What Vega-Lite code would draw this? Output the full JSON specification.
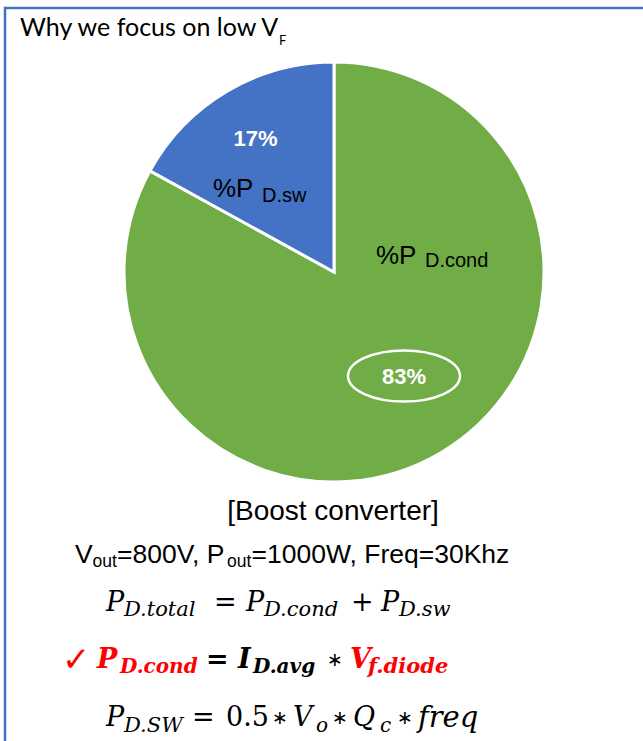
{
  "$schema": "https://vega.github.io/schema/vega-lite/v6.json",
  "width": 643,
  "height": 741,
  "autosize": {"type": "fit", "contains": "padding"},
  "padding": 0,
  "background": "white",
  "config": {"view": {"stroke": null}},
  "datasets": {
    "shares": [
      {"part": "cond", "share": 0.83, "ord": 1},
      {"part": "sw", "share": 0.17, "ord": 2}
    ]
  },
  "data": {"values": [{}]},
  "layer": [
    {
      "mark": {"type": "rect", "x": 5, "y": 8, "x2": 720, "y2": 820, "fill": null, "stroke": "#4472C4", "strokeWidth": 2.5},
      "encoding": {}
    },
    {
      "mark": {"type": "text", "text": "Why we focus on low V", "x": 20, "y": 36, "align": "left", "baseline": "alphabetic", "font": "Lato", "fontSize": 25, "color": "black"},
      "encoding": {}
    },
    {
      "mark": {"type": "text", "text": "F", "x": 279, "y": 45, "align": "left", "baseline": "alphabetic", "font": "Lato", "fontSize": 13, "color": "black"},
      "encoding": {}
    },
    {
      "data": {"name": "shares"},
      "mark": {"type": "arc", "x": 334, "y": 272, "outerRadius": 210, "stroke": "white", "strokeWidth": 3},
      "encoding": {
        "theta": {"field": "share", "type": "quantitative", "stack": true},
        "order": {"field": "ord"},
        "color": {"field": "part", "type": "nominal", "scale": {"domain": ["cond", "sw"], "range": ["#70AD47", "#4472C4"]}, "legend": null}
      }
    },
    {
      "data": {"name": "shares"},
      "mark": {"type": "text", "x": 334, "y": 272, "radius": 122, "dx": 8, "font": "Liberation Sans", "fontWeight": "bold", "fontSize": 22, "color": "white", "baseline": "middle", "align": "center"},
      "encoding": {
        "theta": {"field": "share", "type": "quantitative", "stack": true},
        "order": {"field": "ord"},
        "text": {"condition": {"test": "datum.part === 'sw'", "value": ""}, "field": "share", "type": "quantitative", "format": ".0%"}
      }
    },
    {
      "data": {"name": "shares"},
      "mark": {"type": "text", "x": 334, "y": 272, "radius": 154, "font": "Liberation Sans", "fontWeight": "bold", "fontSize": 22, "color": "white", "baseline": "middle", "align": "center"},
      "encoding": {
        "theta": {"field": "share", "type": "quantitative", "stack": true},
        "order": {"field": "ord"},
        "text": {"condition": {"test": "datum.part === 'cond'", "value": ""}, "field": "share", "type": "quantitative", "format": ".0%"}
      }
    },
    {
      "mark": {"type": "point", "x": 404, "y": 376, "shape": "M-1,0A1,0.455,0,1,1,1,0A1,0.455,0,1,1,-1,0Z", "size": 12544, "filled": false, "stroke": "white", "strokeWidth": 2.5, "opacity": 1},
      "encoding": {}
    },
    {"mark": {"type": "text", "text": "%P", "x": 213, "y": 189, "align": "left", "font": "Liberation Sans", "fontSize": 26, "color": "black"}, "encoding": {}},
    {"mark": {"type": "text", "text": "D.sw", "x": 262, "y": 196, "align": "left", "font": "Liberation Sans", "fontSize": 20, "color": "black"}, "encoding": {}},
    {"mark": {"type": "text", "text": "%P", "x": 376, "y": 256, "align": "left", "font": "Liberation Sans", "fontSize": 26, "color": "black"}, "encoding": {}},
    {"mark": {"type": "text", "text": "D.cond", "x": 425, "y": 261, "align": "left", "font": "Liberation Sans", "fontSize": 20, "color": "black"}, "encoding": {}},
    {"mark": {"type": "text", "text": "[Boost converter]", "x": 333, "y": 512, "align": "center", "font": "Liberation Sans", "fontSize": 28, "color": "black"}, "encoding": {}},
    {"mark": {"type": "text", "text": "V", "x": 75, "y": 555, "align": "left", "font": "Liberation Sans", "fontSize": 26.5, "color": "black"}, "encoding": {}},
    {"mark": {"type": "text", "text": "out", "x": 92.5, "y": 562, "align": "left", "font": "Liberation Sans", "fontSize": 17.5, "color": "black"}, "encoding": {}},
    {"mark": {"type": "text", "text": "=800V, P", "x": 117, "y": 555, "align": "left", "font": "Liberation Sans", "fontSize": 26.5, "color": "black"}, "encoding": {}},
    {"mark": {"type": "text", "text": "out", "x": 227, "y": 562, "align": "left", "font": "Liberation Sans", "fontSize": 17.5, "color": "black"}, "encoding": {}},
    {"mark": {"type": "text", "text": "=1000W, Freq=30Khz", "x": 251.5, "y": 555, "align": "left", "font": "Liberation Sans", "fontSize": 26.5, "color": "black"}, "encoding": {}},

    {"mark": {"type": "text", "text": "P", "x": 106, "y": 603, "align": "left", "font": "DejaVu Serif", "fontStyle": "italic", "fontSize": 27, "color": "black"}, "encoding": {}},
    {"mark": {"type": "text", "text": "D.total", "x": 124, "y": 610, "align": "left", "font": "DejaVu Serif", "fontStyle": "italic", "fontSize": 21, "color": "black"}, "encoding": {}},
    {"mark": {"type": "text", "text": "=", "x": 214, "y": 603, "align": "left", "font": "DejaVu Serif", "fontSize": 27, "color": "black"}, "encoding": {}},
    {"mark": {"type": "text", "text": "P", "x": 246, "y": 603, "align": "left", "font": "DejaVu Serif", "fontStyle": "italic", "fontSize": 27, "color": "black"}, "encoding": {}},
    {"mark": {"type": "text", "text": "D.cond", "x": 264, "y": 610, "align": "left", "font": "DejaVu Serif", "fontStyle": "italic", "fontSize": 21, "color": "black"}, "encoding": {}},
    {"mark": {"type": "text", "text": "+", "x": 351, "y": 603, "align": "left", "font": "DejaVu Serif", "fontSize": 27, "color": "black"}, "encoding": {}},
    {"mark": {"type": "text", "text": "P", "x": 381, "y": 603, "align": "left", "font": "DejaVu Serif", "fontStyle": "italic", "fontSize": 27, "color": "black"}, "encoding": {}},
    {"mark": {"type": "text", "text": "D.sw", "x": 399, "y": 610, "align": "left", "font": "DejaVu Serif", "fontStyle": "italic", "fontSize": 21, "color": "black"}, "encoding": {}},

    {"mark": {"type": "text", "text": "✓", "x": 62, "y": 661, "align": "left", "font": "DejaVu Sans", "fontSize": 34, "fontWeight": "bold", "color": "#FF0000"}, "encoding": {}},
    {"mark": {"type": "text", "text": "P", "x": 97, "y": 660, "align": "left", "font": "DejaVu Serif", "fontStyle": "italic", "fontWeight": "bold", "fontSize": 27, "color": "#FF0000"}, "encoding": {}},
    {"mark": {"type": "text", "text": "D.cond", "x": 120, "y": 667, "align": "left", "font": "DejaVu Serif", "fontStyle": "italic", "fontWeight": "bold", "fontSize": 20, "color": "#FF0000"}, "encoding": {}},
    {"mark": {"type": "text", "text": "=", "x": 206, "y": 660, "align": "left", "font": "DejaVu Serif", "fontWeight": "bold", "fontSize": 27, "color": "black"}, "encoding": {}},
    {"mark": {"type": "text", "text": "I", "x": 238, "y": 660, "align": "left", "font": "DejaVu Serif", "fontStyle": "italic", "fontWeight": "bold", "fontSize": 27, "color": "black"}, "encoding": {}},
    {"mark": {"type": "text", "text": "D.avg", "x": 253, "y": 667, "align": "left", "font": "DejaVu Serif", "fontStyle": "italic", "fontWeight": "bold", "fontSize": 20, "color": "black"}, "encoding": {}},
    {"mark": {"type": "text", "text": "∗", "x": 327, "y": 660, "align": "left", "font": "DejaVu Sans", "fontSize": 19, "color": "black"}, "encoding": {}},
    {"mark": {"type": "text", "text": "V", "x": 350, "y": 660, "align": "left", "font": "DejaVu Serif", "fontStyle": "italic", "fontWeight": "bold", "fontSize": 27, "color": "#FF0000"}, "encoding": {}},
    {"mark": {"type": "text", "text": "f.diode", "x": 368, "y": 667, "align": "left", "font": "DejaVu Serif", "fontStyle": "italic", "fontWeight": "bold", "fontSize": 21, "color": "#FF0000"}, "encoding": {}},

    {"mark": {"type": "text", "text": "P", "x": 106, "y": 718, "align": "left", "font": "DejaVu Serif", "fontStyle": "italic", "fontSize": 27, "color": "black"}, "encoding": {}},
    {"mark": {"type": "text", "text": "D.SW", "x": 124, "y": 726, "align": "left", "font": "DejaVu Serif", "fontStyle": "italic", "fontSize": 21, "color": "black"}, "encoding": {}},
    {"mark": {"type": "text", "text": "=", "x": 192, "y": 718, "align": "left", "font": "DejaVu Serif", "fontSize": 27, "color": "black"}, "encoding": {}},
    {"mark": {"type": "text", "text": "0.5", "x": 226, "y": 718, "align": "left", "font": "DejaVu Serif", "fontSize": 27, "color": "black"}, "encoding": {}},
    {"mark": {"type": "text", "text": "∗", "x": 272, "y": 718, "align": "left", "font": "DejaVu Sans", "fontSize": 19, "color": "black"}, "encoding": {}},
    {"mark": {"type": "text", "text": "V", "x": 293, "y": 718, "align": "left", "font": "DejaVu Serif", "fontStyle": "italic", "fontSize": 27, "color": "black"}, "encoding": {}},
    {"mark": {"type": "text", "text": "o", "x": 316, "y": 726, "align": "left", "font": "DejaVu Serif", "fontStyle": "italic", "fontSize": 20, "color": "black"}, "encoding": {}},
    {"mark": {"type": "text", "text": "∗", "x": 332, "y": 718, "align": "left", "font": "DejaVu Sans", "fontSize": 19, "color": "black"}, "encoding": {}},
    {"mark": {"type": "text", "text": "Q", "x": 353, "y": 718, "align": "left", "font": "DejaVu Serif", "fontStyle": "italic", "fontSize": 27, "color": "black"}, "encoding": {}},
    {"mark": {"type": "text", "text": "c", "x": 380, "y": 726, "align": "left", "font": "DejaVu Serif", "fontStyle": "italic", "fontSize": 20, "color": "black"}, "encoding": {}},
    {"mark": {"type": "text", "text": "∗", "x": 397, "y": 718, "align": "left", "font": "DejaVu Sans", "fontSize": 19, "color": "black"}, "encoding": {}},
    {"mark": {"type": "text", "text": "freq", "x": 418, "y": 718, "align": "left", "font": "DejaVu Serif", "fontStyle": "italic", "fontSize": 29, "color": "black"}, "encoding": {}}
  ]
}
